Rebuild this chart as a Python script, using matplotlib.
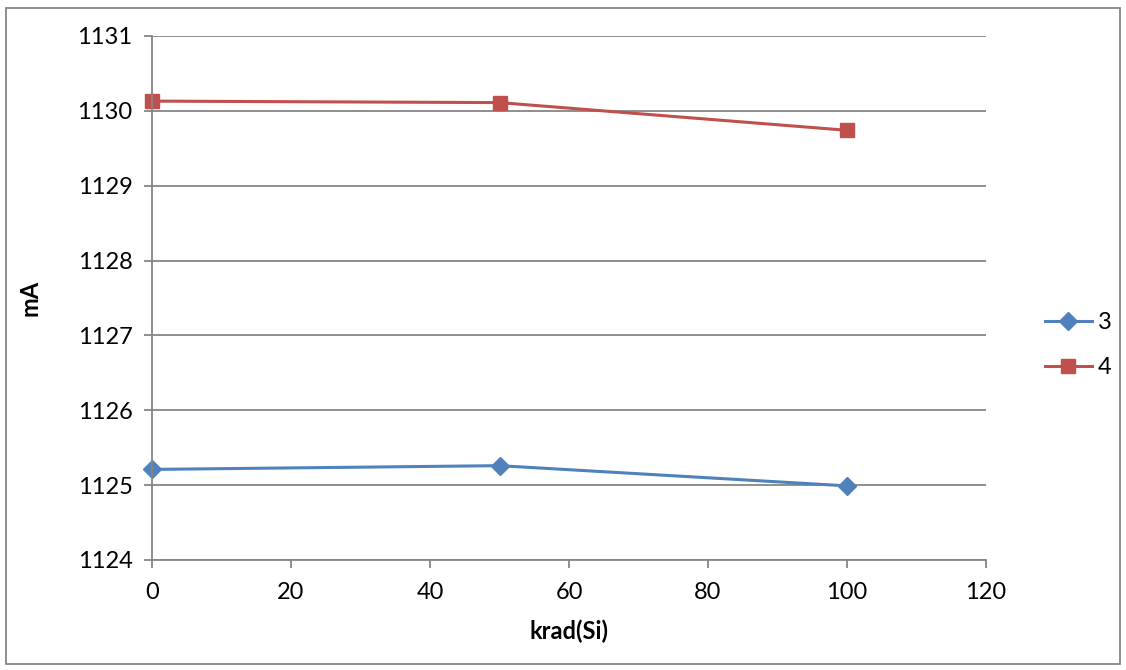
import matplotlib
matplotlib.use("Agg")
import matplotlib.pyplot as plt
from matplotlib.patches import Rectangle

# data
dose = [0, 50, 100]
s3 = [1125.21, 1125.26, 1124.99]
s4 = [1130.13, 1130.11, 1129.74]

plt.rcParams['font.family'] = ['Lato', 'DejaVu Sans']

fig = plt.figure(figsize=(11.26, 6.7), dpi=100)
ax = fig.add_axes([0.135, 0.1642, 0.7407, 0.7821])

ax.plot(dose, s3, color='#4F81BD', lw=2.2, marker='D', ms=9, label='3', clip_on=False)
ax.plot(dose, s4, color='#C0504D', lw=2.2, marker='s', ms=10, label='4', clip_on=False)

ax.set_xlim(0, 120)
ax.set_ylim(1124, 1131)
ax.set_xticks(range(0, 121, 20))
ax.set_yticks(range(1124, 1132))
ax.yaxis.grid(True, color='#868686', lw=1.3)
ax.set_axisbelow(True)
for s in ['top', 'right']:
    ax.spines[s].set_visible(False)
for s in ['left', 'bottom']:
    ax.spines[s].set_color('#868686')
    ax.spines[s].set_linewidth(1.3)
ax.tick_params(axis='both', labelsize=17, color='#868686', length=6, width=1.3)
ax.tick_params(axis='y', pad=8)
ax.tick_params(axis='x', pad=10)

ax.set_xlabel('krad(Si)', fontsize=17, fontweight='bold', labelpad=12)
ax.set_ylabel('mA', fontsize=17, fontweight='bold', labelpad=26)

ax.legend(loc='center left', bbox_to_anchor=(1.045, 0.41), frameon=False,
          fontsize=17, handlelength=2.0, handletextpad=0.25, labelspacing=1.0)

fig.patches.append(Rectangle((6 / 1126, 6 / 670), 1114 / 1126, 656 / 670,
                             transform=fig.transFigure, fill=False,
                             edgecolor='#868686', lw=1.3))

fig.savefig('out.png', dpi=100)
